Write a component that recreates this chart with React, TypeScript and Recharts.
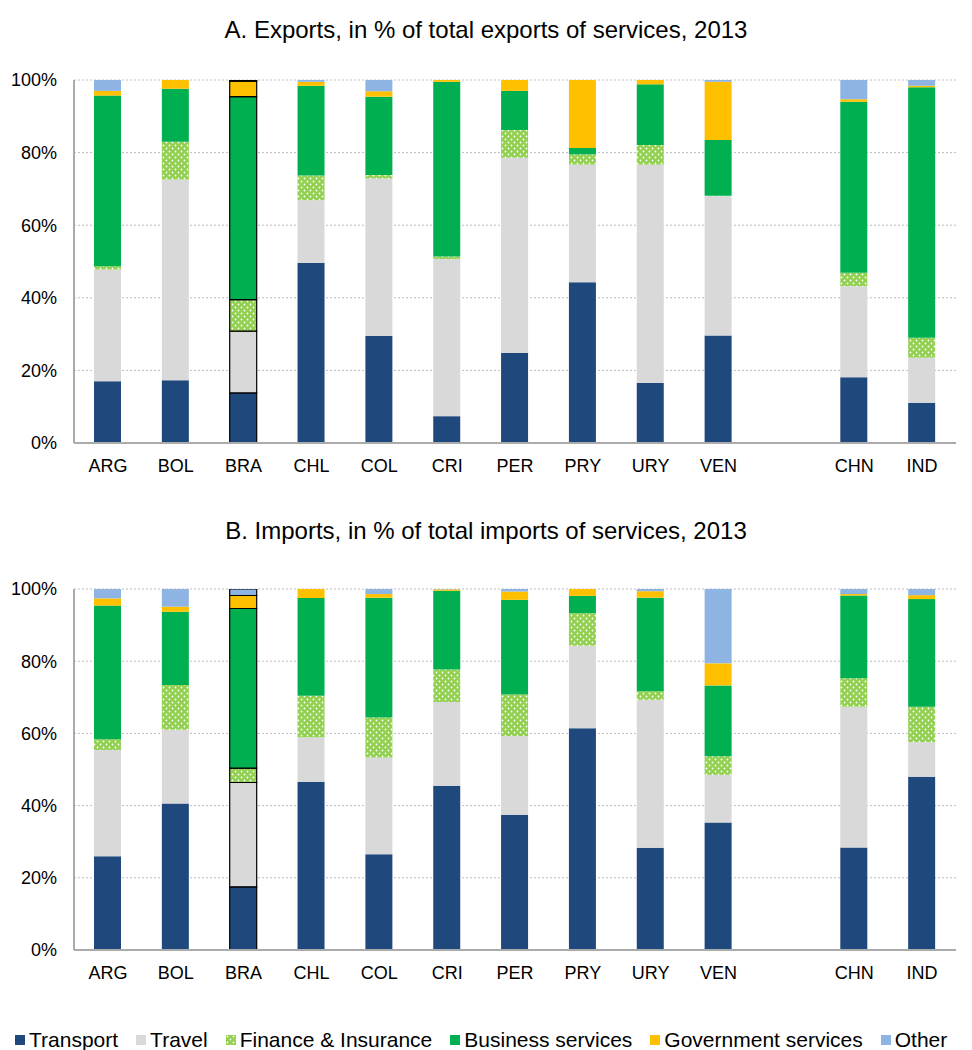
import { BarChart, Bar, XAxis, YAxis, CartesianGrid, Cell } from 'recharts';

// country codes; the empty slot is the gap between VEN and CHN
const categories = ['ARG', 'BOL', 'BRA', 'CHL', 'COL', 'CRI', 'PER', 'PRY', 'URY', 'VEN', '', 'CHN', 'IND'];

// A. Exports, % of total exports of services, 2013
const expTransport = [17.0, 17.3, 13.8, 49.6, 29.5, 7.4, 24.8, 44.3, 16.5, 29.6, null, 18.1, 11.1];
const expTravel = [30.8, 55.3, 17.0, 17.3, 43.4, 43.3, 53.8, 32.4, 60.2, 38.4, null, 25.1, 12.4];
const expFinance = [0.9, 10.4, 8.7, 6.8, 0.9, 0.7, 7.6, 2.8, 5.4, 0.1, null, 3.7, 5.5];
const expBusiness = [47.0, 14.6, 55.9, 24.7, 21.6, 48.1, 10.8, 1.8, 16.7, 15.4, null, 47.1, 69.0];
const expGovernment = [1.3, 2.4, 4.3, 1.1, 1.5, 0.5, 3.0, 18.7, 1.2, 16.0, null, 0.7, 0.4];
const expOther = [3.0, 0, 0.3, 0.5, 3.1, 0, 0, 0, 0, 0.5, null, 5.3, 1.6];

// B. Imports, % of total imports of services, 2013
const impTransport = [26.0, 40.6, 17.5, 46.6, 26.5, 45.5, 37.5, 61.4, 28.3, 35.3, null, 28.4, 48.0];
const impTravel = [29.4, 20.4, 28.9, 12.3, 26.8, 23.2, 21.8, 22.9, 41.0, 13.2, null, 39.0, 9.6];
const impFinance = [3.0, 12.4, 4.0, 11.5, 11.1, 9.0, 11.5, 9.0, 2.4, 5.2, null, 7.9, 9.8];
const impBusiness = [37.0, 20.3, 44.2, 27.1, 33.2, 21.8, 26.2, 4.8, 25.9, 19.6, null, 22.9, 29.8];
const impGovernment = [2.0, 1.4, 3.6, 2.5, 1.0, 0.4, 2.3, 1.9, 1.8, 6.1, null, 0.4, 1.1];
const impOther = [2.6, 4.9, 1.8, 0, 1.4, 0.1, 0.7, 0, 0.6, 20.6, null, 1.4, 1.7];

const yTicks = [0, 20, 40, 60, 80, 100];

const SERIES = [
  { key: 'transport', name: 'Transport', color: '#1F497D' },
  { key: 'travel', name: 'Travel', color: '#D9D9D9' },
  { key: 'finance', name: 'Finance & Insurance', color: 'url(#finDots)' },
  { key: 'business', name: 'Business services', color: '#00B050' },
  { key: 'government', name: 'Government services', color: '#FFC000' },
  { key: 'other', name: 'Other', color: '#8EB4E3' },
];

const FONT = 'Arial, "Liberation Sans", sans-serif';
const AXIS_GREY = '#ABABAB';

function buildRows(cols: (number | null)[][]) {
  return categories.map((name, i) => ({
    name,
    transport: cols[0][i],
    travel: cols[1][i],
    finance: cols[2][i],
    business: cols[3][i],
    government: cols[4][i],
    other: cols[5][i],
  }));
}

const exportRows = buildRows([expTransport, expTravel, expFinance, expBusiness, expGovernment, expOther]);
const importRows = buildRows([impTransport, impTravel, impFinance, impBusiness, impGovernment, impOther]);

function DotPattern() {
  return (
    <pattern id="finDots" width="6" height="6" patternUnits="userSpaceOnUse">
      <rect width="6" height="6" fill="#92D050" />
      <circle cx="1.5" cy="1.5" r="0.9" fill="#ffffff" />
      <circle cx="4.5" cy="4.5" r="0.9" fill="#ffffff" />
    </pattern>
  );
}

function Panel({ data, marginTop, marginBottom, withDefs }: { data: any[]; marginTop: number; marginBottom: number; withDefs: boolean }) {
  return (
    <BarChart width={972} height={490} data={data} margin={{ top: marginTop, right: 16, left: 14, bottom: marginBottom }} barCategoryGap={0}>
      <defs>{withDefs ? <DotPattern /> : null}</defs>
      <CartesianGrid vertical={false} stroke="#BDBDBD" strokeDasharray="2 2" />
      <XAxis
        dataKey="name"
        height={40}
        axisLine={{ stroke: AXIS_GREY, strokeWidth: 2 }}
        tickLine={false}
        tickMargin={10}
        interval={0}
        tick={{ fill: '#000', fontSize: 18, fontFamily: FONT }}
      />
      <XAxis xAxisId="top" dataKey="name" orientation="top" height={0} tick={false} tickLine={false} axisLine={{ stroke: AXIS_GREY, strokeWidth: 2 }} />
      <YAxis
        width={60}
        domain={[0, 100]}
        ticks={yTicks}
        allowDataOverflow
        axisLine={{ stroke: AXIS_GREY, strokeWidth: 2 }}
        tickLine={false}
        tickMargin={11}
        tickFormatter={(v) => `${v}%`}
        tick={{ fill: '#000', fontSize: 18, fontFamily: FONT }}
      />
      <YAxis yAxisId="right" orientation="right" width={0} domain={[0, 100]} tick={false} tickLine={false} axisLine={{ stroke: AXIS_GREY, strokeWidth: 2 }} />
      {SERIES.map((s) => (
        <Bar key={s.key} dataKey={s.key} name={s.name} stackId="s" fill={s.color} barSize={27} isAnimationActive={false}>
          {data.map((row, i) => (
            <Cell
              key={`c-${i}`}
              fill={s.color}
              stroke={row.name === 'BRA' ? '#000' : 'none'}
              strokeWidth={row.name === 'BRA' ? 1.2 : 0}
            />
          ))}
        </Bar>
      ))}
    </BarChart>
  );
}

const titleStyle: React.CSSProperties = {
  position: 'absolute',
  left: 0,
  width: 972,
  textAlign: 'center',
  fontFamily: FONT,
  fontSize: 24,
  lineHeight: '28px',
  color: '#000',
  whiteSpace: 'nowrap',
};

export default function App() {
  return (
    <div style={{ position: 'absolute', left: 0, top: 0, width: 972, height: 1050, background: '#fff', overflow: 'hidden' }}>
      <div style={{ position: 'absolute', left: 0, top: 0 }}>
        <Panel data={exportRows} marginTop={80} marginBottom={7} withDefs />
      </div>
      <div style={{ ...titleStyle, top: 16 }}>A. Exports, in % of total exports of services, 2013</div>

      <div style={{ position: 'absolute', left: 0, top: 500 }}>
        <Panel data={importRows} marginTop={89} marginBottom={0} withDefs={false} />
      </div>
      <div style={{ ...titleStyle, top: 517 }}>B. Imports, in % of total imports of services, 2013</div>

      <div
        style={{
          position: 'absolute',
          left: 15,
          top: 1027,
          display: 'flex',
          alignItems: 'center',
          whiteSpace: 'nowrap',
          fontFamily: FONT,
          fontSize: 21,
          lineHeight: '25px',
          color: '#000',
        }}
      >
        {SERIES.map((s) => (
          <div key={s.key} style={{ display: 'flex', alignItems: 'center', marginRight: 18 }}>
            <svg width={10} height={10} style={{ marginRight: 4 }}>
              <rect width={10} height={10} fill={s.color} />
            </svg>
            <span>{s.name}</span>
          </div>
        ))}
      </div>
    </div>
  );
}
